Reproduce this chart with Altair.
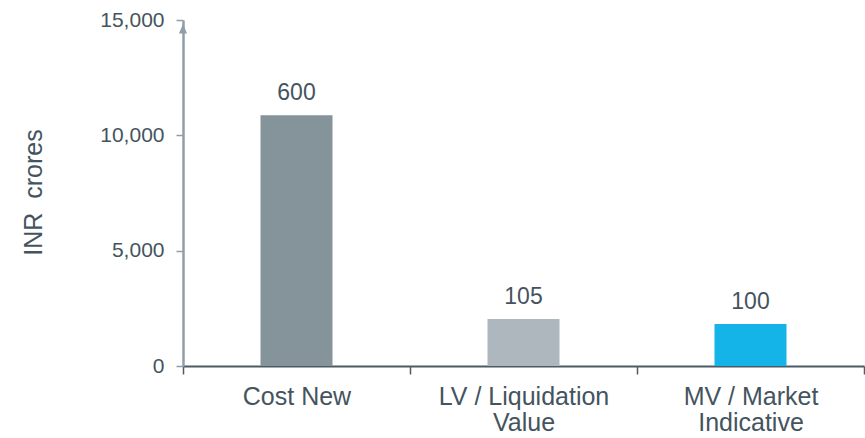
import altair as alt
import pandas as pd

categories = ["Cost New", "LV / Liquidation\nValue", "MV / Market\nIndicative"]
values = [10870, 2040, 1820]
value_labels = ["600", "105", "100"]
bar_colors = ["#85939a", "#adb7bd", "#14b4e8"]
y_ticks = [0, 5000, 10000, 15000]

df = pd.DataFrame({"cat": categories, "val": values, "lab": value_labels})

FONT = "Liberation Sans"
TXT = "#44545e"

x_enc = alt.X(
    "cat:N",
    sort=categories,
    scale=alt.Scale(paddingInner=0, paddingOuter=0),
    axis=alt.Axis(
        title=None,
        labelExpr="split(datum.label, '\\n')",
        labelAngle=0,
        labelFont=FONT,
        labelFontSize=25,
        labelColor=TXT,
        labelLineHeight=26,
        labelPadding=10,
        tickBand="extent",
        tickSize=8,
        tickColor="#4d5b65",
        tickWidth=1.5,
        domainColor="#4d5b65",
        domainWidth=2,
        grid=False,
    ),
)

y_enc = alt.Y(
    "val:Q",
    scale=alt.Scale(domain=[0, 15000], nice=False),
    axis=alt.Axis(
        title="INR\u00a0 crores",
        values=y_ticks,
        format=",.0f",
        labelFont=FONT,
        labelFontSize=21,
        labelColor=TXT,
        labelPadding=12,
        tickSize=7,
        tickColor="#8f9ea8",
        tickWidth=1.5,
        domainColor="#8f9ea8",
        domainWidth=2.5,
        grid=False,
        titleFont=FONT,
        titleFontSize=25,
        titleFontWeight="normal",
        titleColor=TXT,
        titleX=-150,
        titleY=172,
        titleAngle=270,
        titleAlign="center",
        titleBaseline="middle",
    ),
)

bars = alt.Chart(df).mark_bar(size=72).encode(
    x=x_enc,
    y=y_enc,
    color=alt.Color("cat:N", sort=categories,
                    scale=alt.Scale(domain=categories, range=bar_colors),
                    legend=None),
)

texts = alt.Chart(df).mark_text(
    font=FONT, fontSize=23, color=TXT, baseline="alphabetic", dy=-15
).encode(
    x=alt.X("cat:N", sort=categories),
    y=alt.Y("val:Q"),
    text="lab:N",
)

arrow = alt.Chart(pd.DataFrame({"v": [y_ticks[-1]]})).mark_point(
    shape="M0,-0.55L0.45,0.5L-0.45,0.5Z",
    size=324,
    filled=True,
    color="#8f9ea8",
    opacity=1,
    yOffset=9,
    clip=False,
).encode(
    x=alt.value(0),
    y=alt.Y("v:Q"),
)

chart = (
    alt.layer(bars, texts, arrow)
    .properties(
        width=681,
        height=346,
        autosize=alt.AutoSizeParams(type="none"),
        padding={"left": 183, "top": 20, "right": 1, "bottom": 72},
    )
    .configure_view(stroke=None)
)

chart.save("out.html", embed_options={"renderer": "svg", "actions": False})
